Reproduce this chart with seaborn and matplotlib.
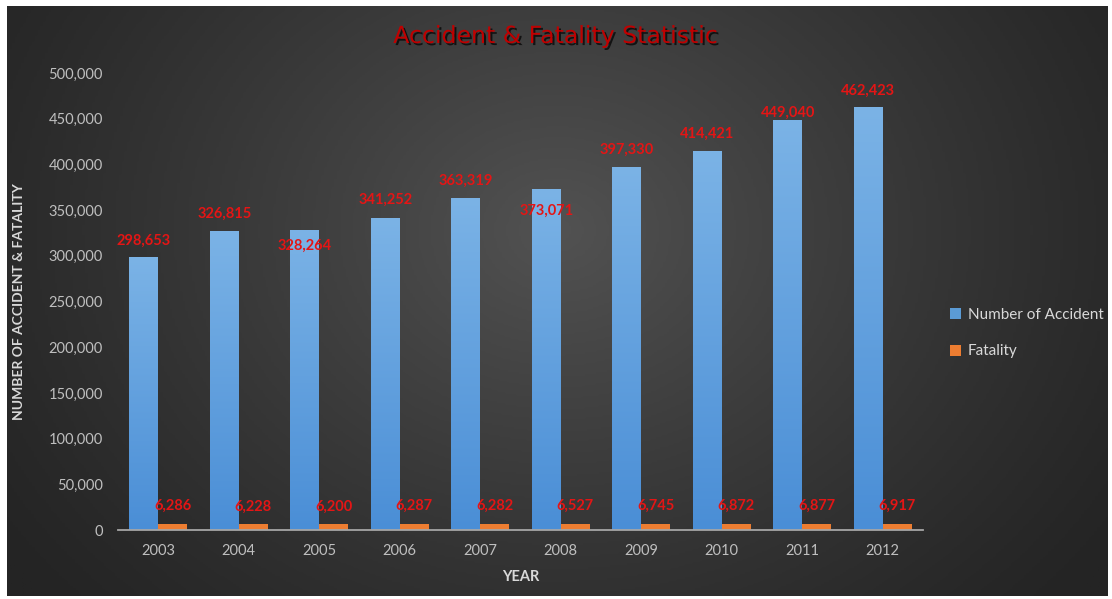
import numpy as np
import pandas as pd
import matplotlib
matplotlib.use("Agg")
import matplotlib.pyplot as plt
import seaborn as sns
import matplotlib.patheffects as pe
from matplotlib.colors import LinearSegmentedColormap
from matplotlib.patches import Patch

# ---------------- data ----------------
years = ["2003", "2004", "2005", "2006", "2007", "2008", "2009", "2010", "2011", "2012"]
accidents = [298653, 326815, 328264, 341252, 363319, 373071, 397330, 414421, 449040, 462423]
fatalities = [6286, 6228, 6200, 6287, 6282, 6527, 6745, 6872, 6877, 6917]
series_names = ["Number of Accident", "Fatality"]
y_ticks = [0, 50000, 100000, 150000, 200000, 250000, 300000, 350000, 400000, 450000, 500000]

# label vertical offsets (pixels) for the accident labels, as placed in the original
acc_label_offsets = [16, 17, -16, 18, 17, -22, 17, 17, 7, 17]
fat_label_offset = 18

df = pd.DataFrame({
    "Year": years * 2,
    "Value": accidents + fatalities,
    "Series": [series_names[0]] * len(years) + [series_names[1]] * len(years),
})

sns.set_theme(style="dark")
plt.rcParams["font.family"] = ["Lato", "DejaVu Sans"]

W, H = 1112, 599
fig = plt.figure(figsize=(W / 100, H / 100), dpi=100, facecolor="white")

# ---- dark radial-gradient background ----
bg = fig.add_axes([7 / W, 3 / H, 1101 / W, 590 / H])
bg.axis("off")
gx, gy = np.meshgrid(np.linspace(0, 1, 400), np.linspace(0, 1, 300))
r = np.sqrt(((gx - 0.5) / 0.62) ** 2 + ((gy - 0.62) / 0.95) ** 2)
val = np.clip(1 - r, 0, 1) ** 1.2
bg_cmap = LinearSegmentedColormap.from_list("bg", ["#242424", "#525252"])
bg.imshow(val, extent=[0, 1, 0, 1], aspect="auto", cmap=bg_cmap, origin="lower", vmin=0, vmax=1)
bg.set_xlim(0, 1)
bg.set_ylim(0, 1)

# ---- main axes ----
ax = fig.add_axes([118 / W, 69 / H, 805 / W, 457 / H])
ax.set_facecolor("none")

blue = "#5b9bd5"
orange = "#ed7d31"
sns.barplot(data=df, x="Year", y="Value", hue="Series", palette=[blue, orange],
            width=0.72, saturation=1, ax=ax, legend=False, linewidth=0)

# gradient fill for blue bars
blue_cmap = LinearSegmentedColormap.from_list("bl", ["#4a8ed6", "#7bb3e6"])
grad = np.linspace(0, 1, 256).reshape(-1, 1)
for p in ax.containers[0]:
    x0, y0, w, h = p.get_x(), p.get_y(), p.get_width(), p.get_height()
    im = ax.imshow(grad, extent=[x0, x0 + w, y0, y0 + h], aspect="auto",
                   cmap=blue_cmap, origin="lower", zorder=p.get_zorder())
    im.set_clip_path(p)
    p.set_facecolor("none")
for p in ax.containers[1]:
    p.set_facecolor(orange)

ax.set_xlim(-0.5, 9.5)
ax.set_ylim(0, 500000)
ax.set_yticks(y_ticks)
ax.set_yticklabels([f"{t:,}" for t in y_ticks])
ax.grid(False)

for s in ["top", "right", "left"]:
    ax.spines[s].set_visible(False)
ax.spines["bottom"].set_color("#a6a6a6")
ax.spines["bottom"].set_linewidth(1.3)

ax.tick_params(axis="y", length=0, pad=11, labelsize=10.5, labelcolor="#bfbfbf")
ax.tick_params(axis="x", length=0, pad=10, labelsize=10.5, labelcolor="#bfbfbf")

ax.set_xlabel("YEAR", fontsize=10.5, fontweight="bold", color="#d9d9d9")
ax.xaxis.set_label_coords(0.5, (530 - 570) / 457)
ax.set_ylabel("NUMBER OF ACCIDENT & FATALITY", fontsize=10, fontweight="bold", color="#d9d9d9")
ax.yaxis.set_label_coords((25 - 118) / 805, 0.5)

# data labels
red = "#e41515"
for p, v, off in zip(ax.containers[0], accidents, acc_label_offsets):
    ax.annotate(f"{v:,}", xy=(p.get_x() + p.get_width() / 2, p.get_height()),
                xytext=(0, off), textcoords="offset pixels", ha="center", va="center",
                color=red, fontsize=10.5, fontweight="bold", zorder=5)
for p, v in zip(ax.containers[1], fatalities):
    ax.annotate(f"{v:,}", xy=(p.get_x() + p.get_width() / 2, p.get_height()),
                xytext=(0, fat_label_offset), textcoords="offset pixels", ha="center", va="center",
                color=red, fontsize=10.5, fontweight="bold", zorder=5)

# title
fig.text(556 / W, 1 - 36 / H, "Accident & Fatality Statistic", ha="center", va="center",
         fontsize=17, color="#c00000", family=["DejaVu Sans"],
         path_effects=[pe.withSimplePatchShadow(offset=(1.5, -1.5), shadow_rgbFace="black", alpha=0.7)])

# legend
handles = [Patch(facecolor=blue, edgecolor="none"), Patch(facecolor=orange, edgecolor="none")]
ax.legend(handles, series_names, loc="center left", bbox_to_anchor=(950 / W, 1 - 333 / H),
          bbox_transform=fig.transFigure, frameon=False, fontsize=11, labelcolor="#d9d9d9",
          handlelength=0.75, handleheight=0.75, handletextpad=0.4, labelspacing=1.5,
          borderaxespad=0, borderpad=0)

fig.savefig("out.png", dpi=100, facecolor="white")
